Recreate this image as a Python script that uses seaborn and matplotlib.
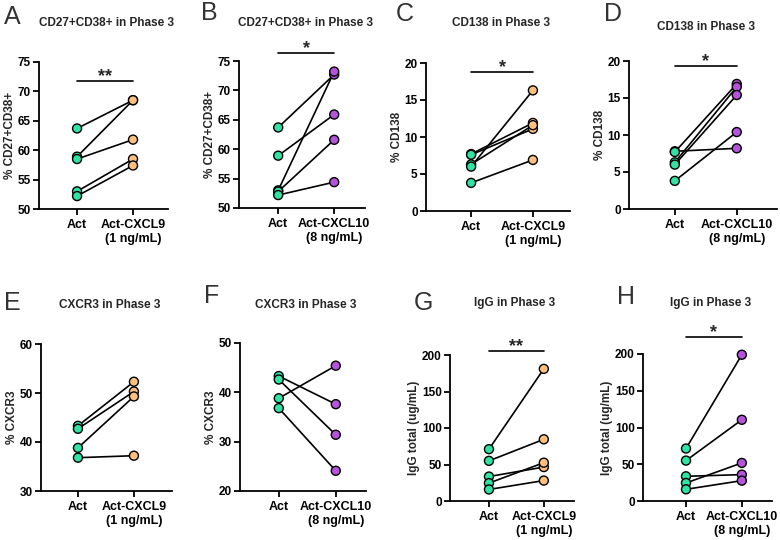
import numpy as np
import pandas as pd
import matplotlib
matplotlib.use("Agg")
import matplotlib.pyplot as plt
import seaborn as sns

# ---------------- data ----------------
panel_letters = ["A", "B", "C", "D", "E", "F", "G", "H"]
panel_titles = ["CD27+CD38+ in Phase 3", "CD27+CD38+ in Phase 3",
                "CD138 in Phase 3", "CD138 in Phase 3",
                "CXCR3 in Phase 3", "CXCR3 in Phase 3",
                "IgG in Phase 3", "IgG in Phase 3"]
y_labels = ["% CD27+CD38+", "% CD27+CD38+", "% CD138", "% CD138",
            "% CXCR3", "% CXCR3", "IgG total (ug/mL)", "IgG total (ug/mL)"]
label_cxcl9 = "Act-CXCL9\n(1 ng/mL)"
label_cxcl10 = "Act-CXCL10\n(8 ng/mL)"
x_labels = [["Act", label_cxcl9], ["Act", label_cxcl10],
            ["Act", label_cxcl9], ["Act", label_cxcl10],
            ["Act", label_cxcl9], ["Act", label_cxcl10],
            ["Act", label_cxcl9], ["Act", label_cxcl10]]

act_A = [63.7, 58.9, 58.5, 53.0, 52.2]
trt_A = [68.5, 68.5, 61.8, 58.5, 57.4]
act_B = [63.7, 58.9, 53.0, 52.8, 52.2]
trt_B = [72.7, 65.9, 73.2, 61.6, 54.4]
act_C = [7.7, 7.6, 6.3, 6.0, 3.8]
trt_C = [11.9, 11.1, 11.6, 16.3, 6.9]
act_D = [7.8, 7.7, 6.3, 6.0, 3.8]
trt_D = [8.2, 16.9, 16.5, 15.4, 10.4]
act_E = [43.3, 42.7, 38.8, 36.8]
trt_E = [52.3, 50.3, 49.3, 37.2]
act_F = [38.8, 43.3, 42.6, 36.8]
trt_F = [45.4, 37.6, 31.4, 24.1]
act_G = [71.0, 55.0, 33.5, 24.5, 15.8]
trt_G = [181.0, 84.5, 46.5, 52.5, 28.0]
act_H = [71.4, 55.0, 33.6, 24.5, 15.9]
trt_H = [199.0, 110.5, 35.9, 51.8, 27.7]

acts = [act_A, act_B, act_C, act_D, act_E, act_F, act_G, act_H]
trts = [trt_A, trt_B, trt_C, trt_D, trt_E, trt_F, trt_G, trt_H]

y_ticks = [[50, 55, 60, 65, 70, 75], [50, 55, 60, 65, 70, 75],
           [0, 5, 10, 15, 20], [0, 5, 10, 15, 20],
           [30, 40, 50, 60], [20, 30, 40, 50],
           [0, 50, 100, 150, 200], [0, 50, 100, 150, 200]]
sig_labels = ["**", "*", "*", "*", None, None, "**", "*"]
sig_heights = [71.8, 76.4, 18.8, 19.3, None, None, 205.9, 223.5]

# ---------------- style / layout ----------------
GREEN = "#30e3a3"
ORANGE = "#fdc17f"
PURPLE = "#b553da"
trt_colors = [ORANGE, PURPLE] * 4

sns.set_style("ticks")
plt.rcParams["font.family"] = ["Liberation Sans", "DejaVu Sans"]
plt.rcParams["font.weight"] = "bold"
plt.rcParams["axes.labelweight"] = "bold"

W, H = 780, 540
fig = plt.figure(figsize=(7.8, 5.4), dpi=100)

# axes rectangles in pixels: left, right, top, bottom
rects = [(39, 168, 62, 209), (239, 365, 61, 208), (426, 570, 63, 211), (629, 777, 61, 209),
         (41, 172, 344, 491), (240, 366, 343, 491), (450, 574, 355, 501), (643, 772, 354, 501)]
xlims = [(-0.68, 1.625), (-0.70, 1.55), (-0.73, 1.60), (-0.74, 1.65),
         (-0.66, 1.68), (-0.68, 1.53), (-0.71, 1.55), (-0.77, 1.54)]
title_y = [23, 23, 23, 27, 305, 305, 303, 303]
letter_pos = [(4, 17), (201, 13), (396, 14), (604, 14), (4, 303), (204, 296), (414, 303), (617, 297)]

for i in range(8):
    l, r, t, b = rects[i]
    ax = fig.add_axes([l / W, 1 - b / H, (r - l) / W, (b - t) / H])
    n = len(acts[i])
    df = pd.DataFrame({
        "pair": list(range(n)) * 2,
        "pos": [0] * n + [1] * n,
        "value": acts[i] + trts[i],
        "group": ["Act"] * n + ["Trt"] * n,
    })
    sns.lineplot(data=df, x="pos", y="value", units="pair", estimator=None,
                 color="black", linewidth=1.2, ax=ax, legend=False, zorder=2)
    sns.scatterplot(data=df, x="pos", y="value", hue="group",
                    palette={"Act": GREEN, "Trt": trt_colors[i]},
                    s=42, edgecolor="black", linewidth=1.0, ax=ax,
                    legend=False, zorder=3, clip_on=False)
    yt = y_ticks[i]
    ax.set_ylim(yt[0], yt[-1])
    ax.set_yticks(yt)
    ax.set_xlim(*xlims[i])
    ax.set_xticks([0, 1])
    ax.set_xticklabels(x_labels[i], fontsize=9, fontweight="bold", linespacing=1.25)
    ax.tick_params(axis="y", labelsize=8.5, length=4, width=1.3, pad=2, colors="black")
    ax.tick_params(axis="x", length=4, width=1.3, pad=3, colors="black")
    ax.set_xlabel("")
    ax.set_ylabel(y_labels[i], fontsize=8.5, fontweight="bold", labelpad=1)
    sns.despine(ax=ax)
    for sp in ["left", "bottom"]:
        ax.spines[sp].set_linewidth(1.3)
        ax.spines[sp].set_color("black")
    if sig_labels[i] is not None:
        yb = sig_heights[i]
        ax.plot([0, 1], [yb, yb], color="black", linewidth=1.2, clip_on=False)
        ax.annotate(sig_labels[i], xy=(0.5, yb), xytext=(0, -3), textcoords="offset points",
                    ha="center", va="bottom", fontsize=13, fontweight="bold",
                    annotation_clip=False)
    cx = (l + r) / 2 + 3
    fig.text(cx / W, 1 - title_y[i] / H, panel_titles[i], ha="center", va="center",
             fontsize=8.5, fontweight="bold")
    lx, ly = letter_pos[i]
    fig.text(lx / W, 1 - ly / H, panel_letters[i], ha="left", va="center",
             fontsize=18, fontweight="normal", color="#333333")

fig.savefig("out.png", dpi=100)
